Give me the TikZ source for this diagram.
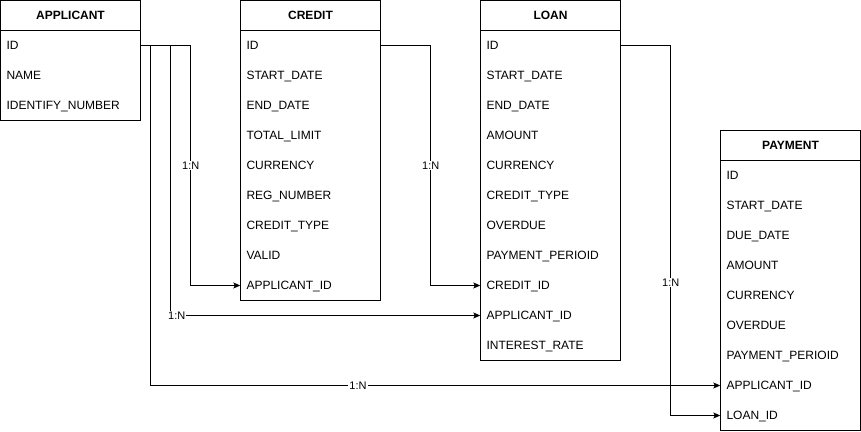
\documentclass[tikz,border=0pt]{standalone}
\usepackage{fontspec}
\setmainfont{Liberation Sans}
\usetikzlibrary{arrows.meta}

\tikzset{
	head/.style={minimum width=140pt, minimum height=30pt, inner sep=0pt, text height=9.6pt, text depth=1pt, font=\fontsize{12}{14}\selectfont\bfseries},
	field/.style={minimum height=30pt, inner xsep=6pt, inner ysep=0pt, text width=128pt, text height=9.6pt, text depth=1pt, align=left},
	rel/.style={line width=1pt, -{Stealth[length=7pt, width=6pt, inset=1.5pt]}},
	card/.style={fill=white, inner sep=1pt, font=\fontsize{11}{13}\selectfont}
}

\begin{document}
\begin{tikzpicture}[x=1pt, y=-1pt, font=\fontsize{12}{14}\selectfont]
	\useasboundingbox (0,0) rectangle (861,431);

	% tables
	\node[head] (app) at (70.5,15.5) {APPLICANT};
	\foreach \t [count=\i] in {ID,NAME,IDENTIFY\_NUMBER}
		\node[field] (app-\i) at (70.5,15.5+30*\i) {\t};
	\draw[line width=1pt] (app.north west) rectangle (app-3.south east);
	\draw[line width=1pt] (app.south west) -- (app.south east);

	\node[head] (cred) at (310.5,15.5) {CREDIT};
	\foreach \t [count=\i] in {ID,START\_DATE,END\_DATE,TOTAL\_LIMIT,CURRENCY,REG\_NUMBER,CREDIT\_TYPE,VALID,APPLICANT\_ID}
		\node[field] (cred-\i) at (310.5,15.5+30*\i) {\t};
	\draw[line width=1pt] (cred.north west) rectangle (cred-9.south east);
	\draw[line width=1pt] (cred.south west) -- (cred.south east);

	\node[head] (loan) at (550.5,15.5) {LOAN};
	\foreach \t [count=\i] in {ID,START\_DATE,END\_DATE,AMOUNT,CURRENCY,CREDIT\_TYPE,OVERDUE,PAYMENT\_PERIOID,CREDIT\_ID,APPLICANT\_ID,INTEREST\_RATE}
		\node[field] (loan-\i) at (550.5,15.5+30*\i) {\t};
	\draw[line width=1pt] (loan.north west) rectangle (loan-11.south east);
	\draw[line width=1pt] (loan.south west) -- (loan.south east);

	\node[head] (pay) at (790.5,145.5) {PAYMENT};
	\foreach \t [count=\i] in {ID,START\_DATE,DUE\_DATE,AMOUNT,CURRENCY,OVERDUE,PAYMENT\_PERIOID,APPLICANT\_ID,LOAN\_ID}
		\node[field] (pay-\i) at (790.5,145.5+30*\i) {\t};
	\draw[line width=1pt] (pay.north west) rectangle (pay-9.south east);
	\draw[line width=1pt] (pay.south west) -- (pay.south east);

	% relations
	\draw[rel] (app-1.east) -- ++(50,0) |- (cred-9.west) node[card, pos=0.25] {1:N};
	\draw[rel] (app-1.east) -- ++(30,0) |- (loan-10.west) node[card, pos=0.5, xshift=6pt] {1:N};
	\draw[rel] (app-1.east) -- ++(10,0) |- (pay-8.west) node[card, pos=0.682] {1:N};
	\draw[rel] (cred-1.east) -- ++(50,0) |- (loan-9.west) node[card, pos=0.25] {1:N};
	\draw[rel] (loan-1.east) -- ++(50,0) |- (pay-9.west) node[card, pos=0.32] {1:N};
\end{tikzpicture}
\end{document}
